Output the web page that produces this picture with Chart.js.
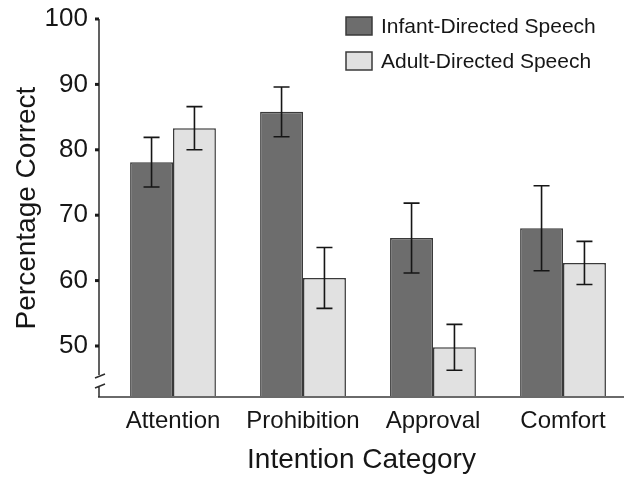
<!DOCTYPE html>
<html>
<head>
<meta charset="utf-8">
<script src="https://cdn.jsdelivr.net/npm/chart.js@4.4.1/dist/chart.umd.min.js"></script>
<style>
    html, body { margin: 0; padding: 0; background: #ffffff; }
    #wrap { width: 624px; height: 479px; overflow: hidden; position: relative; }
    #chart { display: block; }
</style>
</head>
<body>
<div id="wrap"><canvas id="chart" width="630" height="479"></canvas></div>
<script>
// Data
const categories = ['Attention', 'Prohibition', 'Approval', 'Comfort'];
const infantMeans = [78.1, 85.8, 66.5, 68.0];
const infantErrors = [3.8, 3.8, 5.35, 6.5];
const adultMeans = [83.3, 60.4, 49.8, 62.7];
const adultErrors = [3.3, 4.65, 3.5, 3.3];
const yTicks = [50, 60, 70, 80, 90, 100];

const FONT = '"Liberation Sans", Arial, Helvetica, sans-serif';
const INK = '#161616';
const DARK = '#6d6d6d';
const LIGHT = '#e1e1e1';
const EDGE = '#3a3a3a';
const AXIS_X = 99;

// Error bars, axis lines with break, x title and legend
const extrasPlugin = {
    id: 'extras',
    afterDatasetsDraw(chart) {
        const ctx = chart.ctx;
        const y = chart.scales.y;
        const errs = [infantErrors, adultErrors];
        ctx.save();
        ctx.strokeStyle = INK;
        ctx.lineWidth = 1.6;
        chart.data.datasets.forEach((ds, di) => {
            const meta = chart.getDatasetMeta(di);
            meta.data.forEach((bar, i) => {
                const v = ds.data[i];
                const top = y.getPixelForValue(v + errs[di][i]);
                const bot = y.getPixelForValue(v - errs[di][i]);
                ctx.beginPath();
                ctx.moveTo(bar.x, top);
                ctx.lineTo(bar.x, bot);
                ctx.moveTo(bar.x - 8, top);
                ctx.lineTo(bar.x + 8, top);
                ctx.moveTo(bar.x - 8, bot);
                ctx.lineTo(bar.x + 8, bot);
                ctx.stroke();
            });
        });
        ctx.restore();
    },
    afterDraw(chart) {
        const ctx = chart.ctx;
        const area = chart.chartArea;
        const y = chart.scales.y;
        ctx.save();

        // x axis line
        ctx.strokeStyle = '#6a6a6a';
        ctx.lineWidth = 2;
        ctx.beginPath();
        ctx.moveTo(AXIS_X - 1, area.bottom);
        ctx.lineTo(chart.width, area.bottom);
        ctx.stroke();

        // y axis line with break
        ctx.strokeStyle = '#2e2e2e';
        ctx.lineWidth = 1.5;
        ctx.beginPath();
        ctx.moveTo(AXIS_X, area.top);
        ctx.lineTo(AXIS_X, area.bottom - 22);
        ctx.moveTo(AXIS_X, area.bottom - 10);
        ctx.lineTo(AXIS_X, area.bottom);
        ctx.moveTo(AXIS_X - 4, area.bottom - 19);
        ctx.lineTo(AXIS_X + 6, area.bottom - 23);
        ctx.moveTo(AXIS_X - 4, area.bottom - 9);
        ctx.lineTo(AXIS_X + 6, area.bottom - 13);
        ctx.stroke();

        // tick marks
        ctx.fillStyle = '#1a1a1a';
        yTicks.forEach(t => {
            const py = y.getPixelForValue(t);
            ctx.fillRect(AXIS_X - 4, py - 1.5, 4, 3);
        });

        // x axis title, centred on the visible axis
        ctx.fillStyle = INK;
        ctx.font = '28px ' + FONT;
        ctx.textAlign = 'center';
        ctx.textBaseline = 'middle';
        ctx.fillText('Intention Category', (AXIS_X + 624) / 2, 460);

        // legend
        ctx.font = '21px ' + FONT;
        ctx.textAlign = 'left';
        ctx.lineWidth = 1.5;
        chart.data.datasets.forEach((ds, i) => {
            const top = 17 + i * 35;
            ctx.fillStyle = ds.backgroundColor;
            ctx.fillRect(346, top, 26, 18);
            ctx.strokeStyle = EDGE;
            ctx.strokeRect(346, top, 26, 18);
            ctx.fillStyle = INK;
            ctx.fillText(ds.label, 381, top + 10);
        });
        ctx.restore();
    }
};

new Chart(document.getElementById('chart'), {
    type: 'bar',
    data: {
        labels: categories,
        datasets: [{
            label: 'Infant-Directed Speech',
            data: infantMeans,
            backgroundColor: DARK,
            borderColor: EDGE,
            borderWidth: 1.5,
        }, {
            label: 'Adult-Directed Speech',
            data: adultMeans,
            backgroundColor: LIGHT,
            borderColor: EDGE,
            borderWidth: 1.5,
        }],
    },
    options: {
        responsive: false,
        animation: false,
        layout: { padding: { top: 19, right: 2, left: 0, bottom: 0 } },
        datasets: {
            bar: { categoryPercentage: 0.66, barPercentage: 1.0 }
        },
        scales: {
            x: {
                grid: { display: false, drawTicks: false },
                border: { display: false },
                ticks: { color: INK, font: { family: FONT, size: 24 }, padding: 10 },
                afterFit(scale) {
                    scale.height = 82;
                    scale.paddingLeft = 0;
                    scale.paddingRight = 0;
                },
            },
            y: {
                min: 42.2,
                max: 100,
                grid: { display: false, drawTicks: false },
                border: { display: false },
                ticks: { color: INK, font: { family: FONT, size: 26 }, padding: 20 },
                afterBuildTicks(scale) { scale.ticks = yTicks.map(v => ({ value: v })); },
                title: {
                    display: true,
                    text: 'Percentage Correct',
                    color: INK,
                    font: { family: FONT, size: 28 },
                    padding: { top: 10, bottom: 0 },
                },
                afterFit(scale) {
                    scale.width = 108;
                    scale.paddingTop = 0;
                    scale.paddingBottom = 0;
                },
            },
        },
        plugins: {
            legend: { display: false },
            tooltip: { enabled: false },
        },
    },
    plugins: [extrasPlugin],
});
</script>
</body>
</html>
